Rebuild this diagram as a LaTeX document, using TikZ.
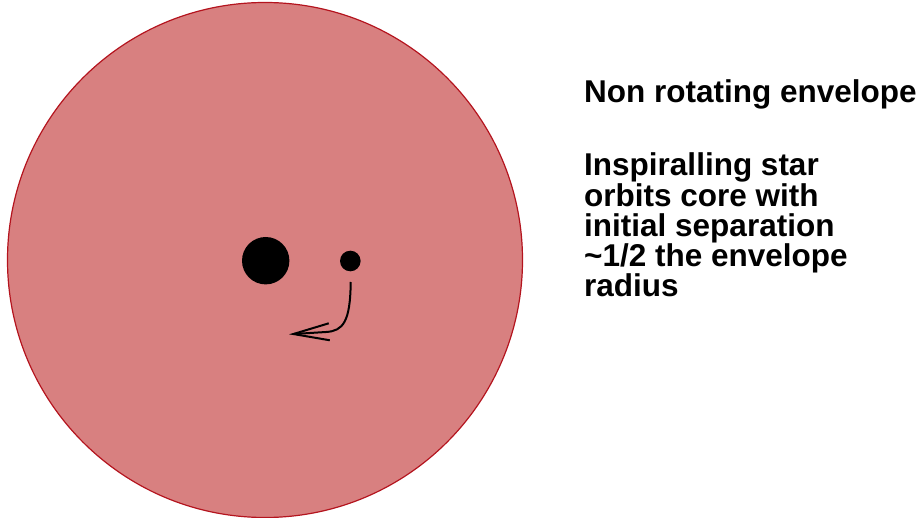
\documentclass[tikz,border=0pt]{standalone}
\usepackage{fontspec}
\setmainfont{Liberation Sans}
\usetikzlibrary{arrows.meta}
\definecolor{envfill}{RGB}{216,128,128}
\definecolor{envline}{RGB}{180,20,30}
\tikzset{
  label text/.style={anchor=base west, inner sep=0pt, font=\fontsize{31.5}{30.5}\selectfont\bfseries},
  blob/.style={circle, fill=black, inner sep=0pt},
  orbit/.style={line width=2pt, -{Straight Barb[length=36pt, width=17pt, line width=2pt]}}
}
\begin{document}
\begin{tikzpicture}[x=1pt,y=-1pt]
\useasboundingbox (0,0) rectangle (923,518);
\draw[fill=envfill, draw=envline, line width=1.2pt] (265,260) circle [radius=257.5];
\node[blob, minimum size=47.4pt] (core) at (265.7,260.7) {};
\node[blob, minimum size=20.6pt] (star) at (350.3,261) {};
\coordinate (a0) at (350.7,282);
\coordinate (a1) at (326,332);
\coordinate (a2) at (289,334.3);
\draw[orbit] (a0) .. controls (350.3,322) and (343,331) .. (a1) -- (a2);
\node[label text] (title) at (584,102.5) {Non rotating envelope};
\node[label text] (desc) at (584,176) {\vtop{\baselineskip=30.25pt
  \hbox{Inspiralling star}
  \hbox{orbits core with}
  \hbox{initial separation}
  \hbox{\char"007E 1/2 the envelope}
  \hbox{radius}}};
\end{tikzpicture}
\end{document}
